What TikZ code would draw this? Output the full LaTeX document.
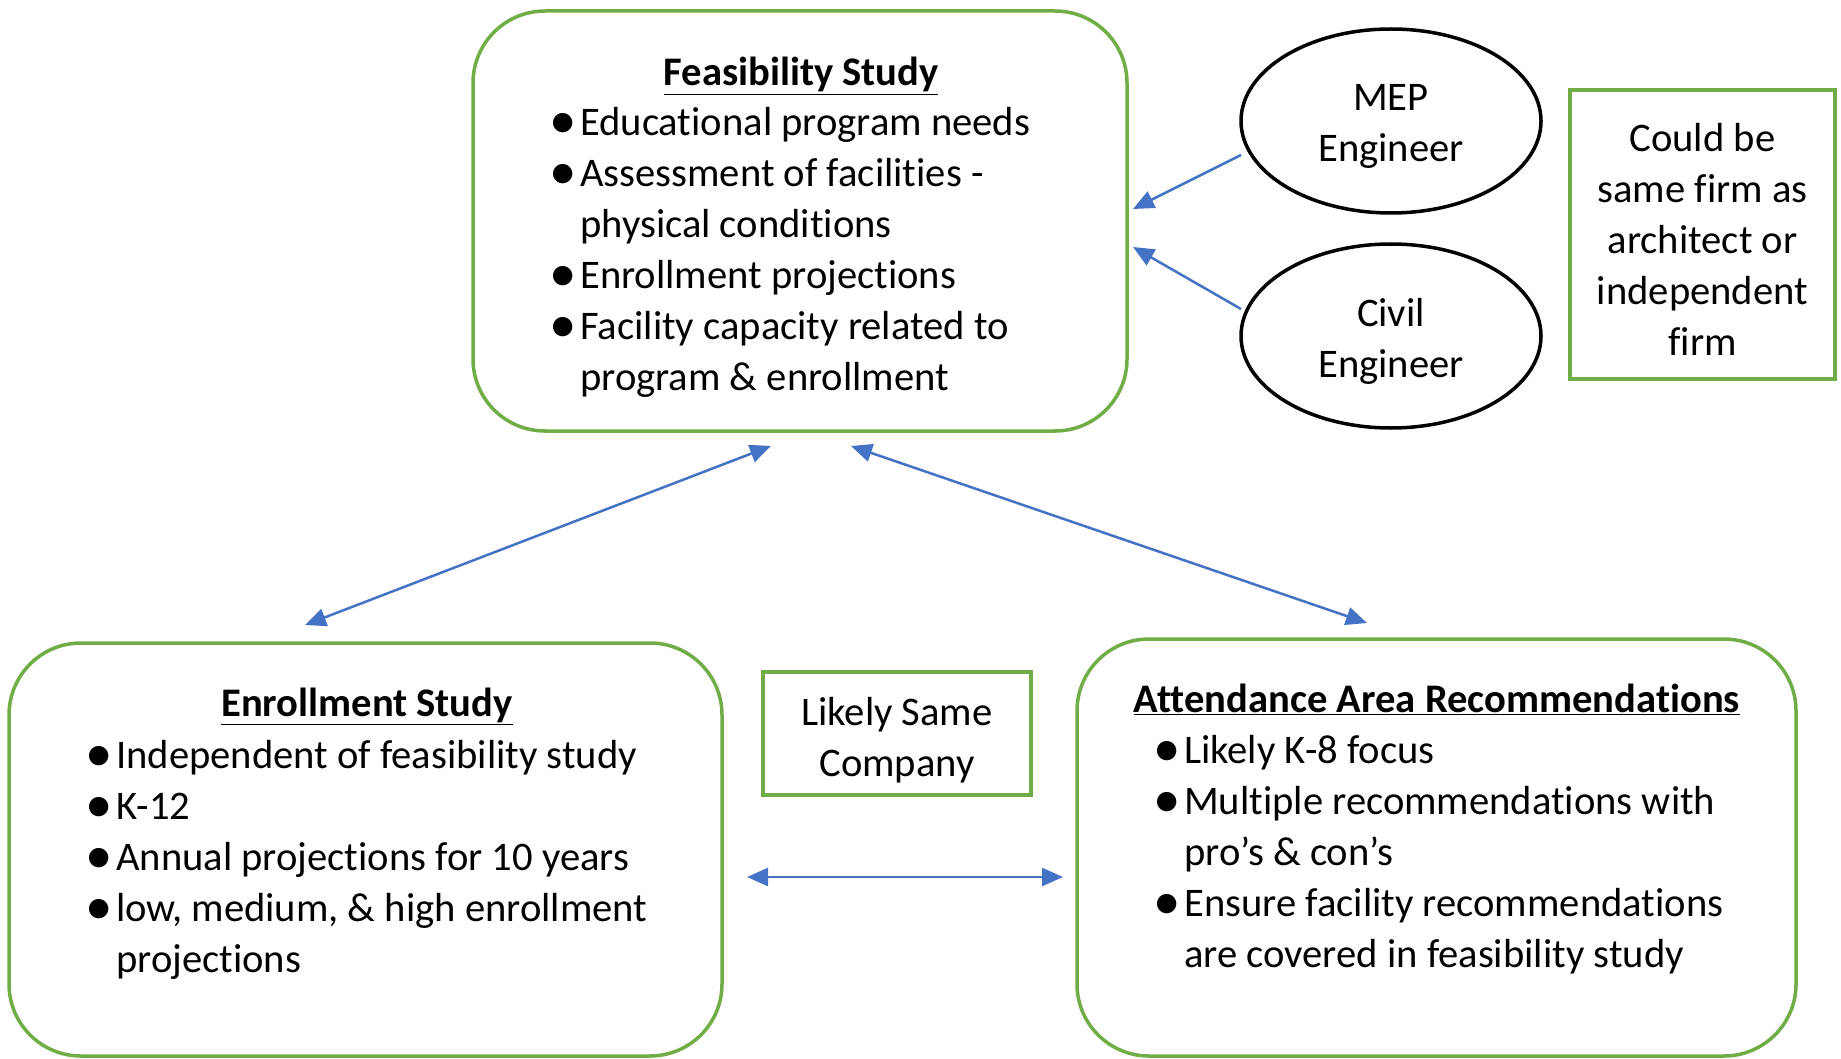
\documentclass[tikz,border=0pt]{standalone}
\usepackage{fontspec}
\usepackage{graphicx}
\setmainfont{Carlito}[Ligatures=NoCommon]
\usetikzlibrary{arrows.meta,shapes.geometric}
\definecolor{offgreen}{HTML}{70AD47}
\definecolor{offblue}{HTML}{4472C4}
\newcommand{\bul}{\makebox[31pt][l]{\raisebox{-3pt}{\scalebox{1.35}{\textbullet}}}}
\begin{document}
\begin{tikzpicture}[x=1pt,y=-1pt,
  every node/.style={font=\fontsize{40.6}{51}\selectfont, inner sep=0pt},
  gbox/.style={draw=offgreen, line width=3.5pt, rounded corners=72pt},
  sbox/.style={draw=offgreen, line width=3.5pt},
  ell/.style={ellipse, draw=black, line width=3.5pt,
    minimum width=300pt, minimum height=184pt},
  ctext/.style={align=center},
  ttl/.style={anchor=base, font=\fontsize{40.6}{51}\selectfont\bfseries},
  lst/.style={anchor=base west},
  conn/.style={draw=offblue, line width=2.5pt},
  tip/.tip={Triangle[length=21pt,width=18pt]}
]
\useasboundingbox (0,0) rectangle (1841,1059);

% boxes
\node[gbox, minimum width=654pt, minimum height=420pt] (feas) at (800,221) {};
\node[gbox, minimum width=713pt, minimum height=413pt] (enr) at (365.5,849.5) {};
\node[gbox, minimum width=719pt, minimum height=417pt] (att) at (1436.5,847.5) {};
\node[sbox, minimum width=268pt, minimum height=123pt] (same) at (897,733.5) {};
\node[sbox, minimum width=265pt, minimum height=289pt] (could) at (1702.5,234.5) {};
\node[ell] (mep) at (1391,121) {};
\node[ell] (civ) at (1391,336) {};

% centred texts
\node[ctext] (sameT) at ([yshift=-7pt]same.center) {Likely Same\\Company};
\node[ctext] (couldT) at ([yshift=-5pt]could.center) {Could be\\same firm as\\architect or\\independent\\firm};
\node[ctext] (mepT) at ([yshift=-5pt]mep.center) {MEP\\Engineer};
\node[ctext] (civT) at ([yshift=-5pt]civ.center) {Civil\\Engineer};

% texts
\node[ttl] (feasT) at (801,86) {\underline{Feasibility Study}};
\node[lst] (feasL) at (549,136) {\begin{tabular}[t]{@{}l@{}l@{}}
\bul & Educational program needs\\
\bul & Assessment of facilities -\\
     & physical conditions\\
\bul & Enrollment projections\\
\bul & Facility capacity related to\\
     & program \& enrollment
\end{tabular}};

\node[ttl] (enrT) at (367,716) {\underline{Enrollment Study}};
\node[lst] (enrL) at (85,768) {\begin{tabular}[t]{@{}l@{}l@{}}
\bul & Independent of feasibility study\\
\bul & K-12\\
\bul & Annual projections for 10 years\\
\bul & low, medium, \& high enrollment\\
     & projections
\end{tabular}};

\node[ttl] (attT) at (1437,712) {\underline{Attendance Area Recommendations}};
\node[lst] (attL) at (1153,763) {\begin{tabular}[t]{@{}l@{}l@{}}
\bul & Likely K-8 focus\\
\bul & Multiple recommendations with\\
     & pro’s \& con’s\\
\bul & Ensure facility recommendations\\
     & are covered in feasibility study
\end{tabular}};

% connector end points
\coordinate (feasBL) at (771,446);
\coordinate (feasBR) at (851,446);
\coordinate (enrTop) at (305,625);
\coordinate (attTop) at (1367,623);
\coordinate (enrR) at (747,877);
\coordinate (attL0) at (1063,877);
\coordinate (mepS) at (1241,155);
\coordinate (feasR1) at (1133,209);
\coordinate (civS) at (1241,309);
\coordinate (feasR2) at (1133,247);

\draw[conn, {tip}-{tip}] (feasBL) -- (enrTop);
\draw[conn, {tip}-{tip}] (feasBR) -- (attTop);
\draw[conn, {tip}-{tip}] (enrR) -- (attL0);
\draw[conn, -{tip}] (mepS) -- (feasR1);
\draw[conn, -{tip}] (civS) -- (feasR2);
\end{tikzpicture}
\end{document}
